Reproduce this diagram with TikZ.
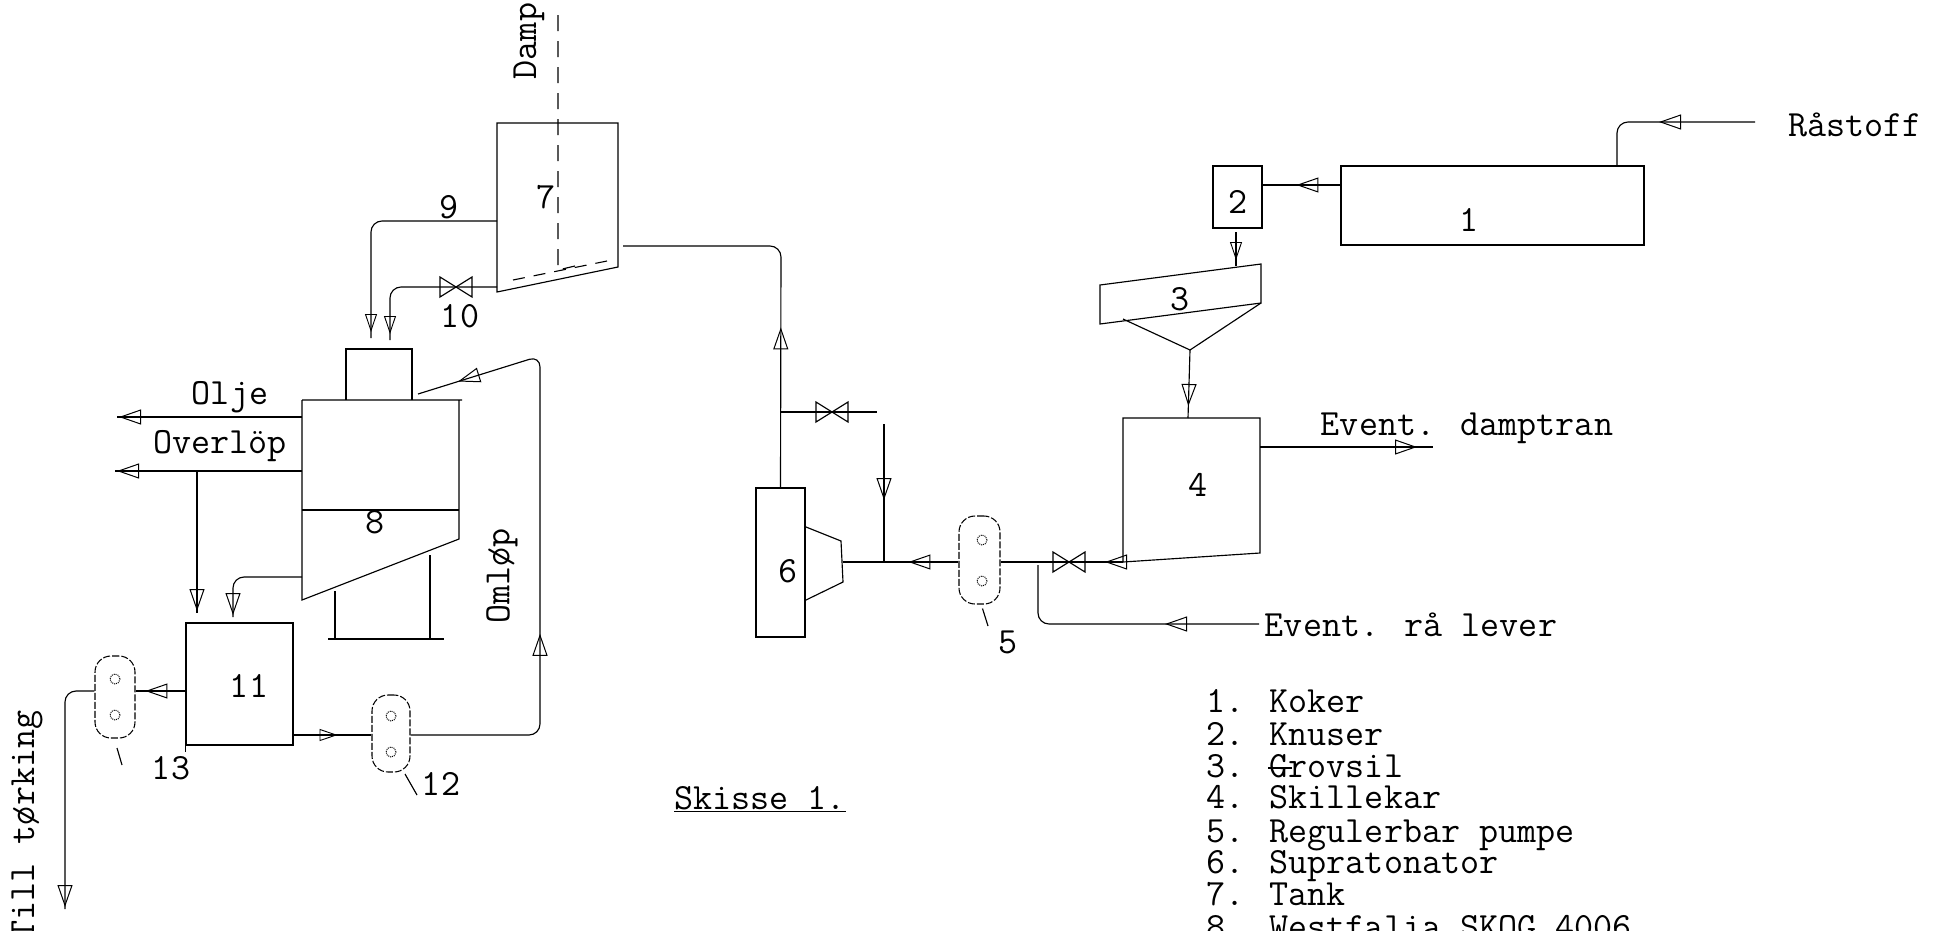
\documentclass[tikz,border=0pt]{standalone}
\usetikzlibrary{arrows.meta,decorations.markings,calc}
\tikzset{
  pipe/.style={line width=1.15pt,rounded corners=11pt},
  wall/.style={line width=1.15pt},
  boxnode/.style={draw,line width=1.15pt,inner sep=0pt,rectangle},
  pumpnode/.style={draw,line width=1.05pt,inner sep=0pt,rectangle,rounded corners=16pt,dash pattern=on 7pt off 2pt},
  hole/.style={draw,line width=1pt,circle,inner sep=0pt,minimum size=10pt,densely dotted},
  txt/.style={inner sep=0pt,font=\fontsize{37}{37}\selectfont\ttfamily},
  flowat/.style={postaction={decorate,decoration={markings,
    mark=at position #1 with {\arrow[line width=1pt]{Triangle[open,length=22pt,width=15pt]}}}}},
  flowsm/.style={postaction={decorate,decoration={markings,
    mark=at position #1 with {\arrow[line width=.9pt]{Triangle[open,length=18pt,width=12pt]}}}}},
  valveshape/.pic={\draw[line width=1.15pt] (-16,-10)--(16,10)--(16,-10)--(-16,10)--cycle;}
}
\begin{document}
\begin{tikzpicture}[x=1pt,y=-1pt]
\useasboundingbox (0,0) rectangle (1940,930);
% ---------- boxes
\node[boxnode,minimum width=303pt,minimum height=79pt] (b1) at (1492.5,205.5) {};
\node[boxnode,minimum width=49pt,minimum height=62pt] (b2) at (1237.5,197) {};
\node[boxnode,minimum width=49pt,minimum height=149pt] (b6) at (780.5,562.5) {};
\node[boxnode,minimum width=107pt,minimum height=122pt] (b11) at (239.5,684) {};
% box 3
\coordinate (b3tl) at (1100,285); \coordinate (b3tr) at (1261,264);
\coordinate (b3br) at (1261,303); \coordinate (b3bl) at (1100,324);
\coordinate (b3apex) at (1190,350); \coordinate (b3cl) at (1123,319);
\draw[wall] (b3tl)--(b3tr)--(b3br)--(b3bl)--cycle;
\draw[wall] (b3cl)--(b3apex)--(b3br);
% box 4
\coordinate (b4tl) at (1123,418); \coordinate (b4tr) at (1260,418);
\coordinate (b4br) at (1260,553); \coordinate (b4bl) at (1123,562);
\draw[wall] (b4tl)--(b4tr)--(b4br)--(b4bl)--cycle;
% box 7
\coordinate (b7tl) at (497,123); \coordinate (b7tr) at (618,123);
\coordinate (b7br) at (618,267); \coordinate (b7bl) at (497,292);
\draw[wall] (b7tl)--(b7tr)--(b7br)--(b7bl)--cycle;
\coordinate (b7ia) at (513,280); \coordinate (b7ib) at (607,261);
\draw[line width=1.1pt,dash pattern=on 12pt off 9pt] (b7ia)--(b7ib);
% centrifuge 8
\coordinate (c8tl) at (302,400); \coordinate (c8tr) at (459,400);
\coordinate (c8mr) at (459,539); \coordinate (c8bl) at (302,600);
\draw[wall] (c8tl)--(462,400) (c8tr)--(c8mr)--(c8bl)--(c8tl);
\draw[wall] (302,510)--(459,510);
\coordinate (c8cl) at (346,400); \coordinate (c8cr) at (412,400);
\draw[wall] (c8cl)--(346,349)--(412,349)--(c8cr);
\draw[wall] (335,591)--(335,639) (430,555)--(430,639) (328,639)--(444,639);
\draw[wall] (b11.south west)--++(0,6);
% nozzle of 6
\coordinate (n6a) at (806,527); \coordinate (n6b) at (841,541);
\coordinate (n6c) at (843,582); \coordinate (n6d) at (806,600);
\coordinate (n6e) at (843,562);
\draw[wall] (n6a)--(n6b)--(n6c)--(n6d);
% ---------- pumps
\node[pumpnode,minimum width=41pt,minimum height=88pt] (p5) at (979.5,560) {};
\node[pumpnode,minimum width=38pt,minimum height=77pt] (p12) at (391,733.5) {};
\node[pumpnode,minimum width=40pt,minimum height=82pt] (p13) at (115,697) {};
\node[hole] (h5a) at (982,540) {}; \node[hole] (h5b) at (982,581) {};
\node[hole] (h12a) at (391,716) {}; \node[hole] (h12b) at (391,752) {};
\node[hole] (h13a) at (115,679) {}; \node[hole] (h13b) at (115,715) {};
% ---------- valves
\coordinate (v10) at (456,287); \pic at (v10) {valveshape};
\coordinate (v6) at (832,412); \pic at (v6) {valveshape};
\coordinate (v4) at (1069,562); \pic at (v4) {valveshape};
% ---------- free ends
\coordinate (raw) at (1755,122);
\coordinate (rawin) at (1617,166);
\coordinate (dtran) at (1433,447);
\coordinate (lever) at (1259,624);
\coordinate (olje) at (117,417);
\coordinate (over) at (115,471);
\coordinate (dry) at (65,909);
% ---------- connectors
\draw[pipe,flowat=96pt] (raw)--(rawin|-raw)--(rawin);
\draw[pipe,flowat=44pt] (b1.west|-0,185)--(b2.east|-0,185);
\draw[pipe,flowsm=28pt] (1236,232)--(1236,266);
\draw[pipe,flowat=56pt] (b3apex)--(1188,418);
\draw[pipe,flowat=18pt] (b4bl)--(v4);
\draw[pipe] (v4)--(p5.east|-v4);
\draw[pipe,flowat=94pt] (lever)--(1038,624)--(1038,565);
\draw[pipe,flowat=50pt] (p5.west|-0,562)--(n6e);
\draw[pipe,flowat=76pt] (884,424)--(884,562);
\draw[pipe] (781,412)--(v6)--(877,412);
\draw[pipe,flowat=160pt] (b6.north)--(781,246)--(623,246);
\draw[pipe,flowsm=-6pt] (b7bl|-v10)--(v10)--(390,287)--(390,340);
\draw[pipe,flowsm=-6pt] (b7tl|-0,221)--(371,221)--(371,338);
\draw[wall,dash pattern=on 16pt off 10pt] (558,15)--(558,270)--(575,266);
\draw[pipe,flowat=40pt] (b11.west|-0,691)--(p13.east|-0,691);
\draw[pipe,flowat=-2pt] (p13.west|-0,691)--(65,691)--(dry);
\draw[pipe,flowsm=44pt] (b11.east|-0,735)--(p12.west|-0,735);
\draw[pipe,flowat=226pt,flowat=-42pt] (p12.east|-0,735)--(540,735)--(540,356)--(418,394);
\draw[pipe,flowat=-2pt] (c8tl|-0,417)--(olje);
\draw[pipe,flowat=-2pt] (c8tl|-0,471)--(over);
\draw[pipe,flowat=140pt] (197,471)--(197,613);
\draw[pipe,flowat=-2pt] (302,577)--(233,577)--(233,617);
\draw[pipe,flowat=-16pt] (b4tr|-dtran)--(dtran);
% ticks
\draw[pipe] (p5.south) ++(3,4)--(988,626);
\draw[pipe] (405,774)--(417,795);
\draw[pipe] (117,748)--(122,765);
% ---------- labels
\node[txt] (t1) at (1469,220) {1};
\node[txt] (t2) at (1238,202) {2};
\node[txt] (t3) at (1180,299) {3};
\node[txt] (t4) at (1198,485) {4};
\node[txt] (t5) at (1008,642) {5};
\node[txt] (t6) at (788,571) {6};
\node[txt] (t7) at (546,197) {7};
\node[txt] (t8) at (375,522) {8};
\node[txt] (t9) at (449,207) {9};
\node[txt] (t10) at (460,316) {10};
\node[txt] (t11) at (249,686) {11};
\node[txt] (t12) at (441,784) {12};
\node[txt] (t13) at (171,768) {13};
\node[txt] (traw) at (1855,125) {Råstoff};
\node[txt] (tdt) at (1467,428) {Event. damptran};
\node[txt] (tlev) at (1411,625) {Event. rå lever};
\node[txt] (tolje) at (230,397) {Olje};
\node[txt] (tover) at (220,446) {Overlöp};
\node[txt,rotate=90] (tdamp) at (529,41) {Damp};
\node[txt,rotate=90] (toml) at (502,576) {Omløp};
\node[txt,rotate=90] (ttil) at (27,825) {Till tørking};
\node[txt] (tsk) at (760,799) {\underline{Skisse 1.}};
\node[txt,anchor=base west] (l1) at (1206,712) {1. Koker};
\node[txt,anchor=base west] (l2) at (1206,745) {2. Knuser};
\node[txt,anchor=base west] (l3) at (1206,777) {3. Grovsil};
\node[txt,anchor=base west] (l4) at (1206,808) {4. Skillekar};
\node[txt,anchor=base west] (l5) at (1206,842) {5. Regulerbar pumpe};
\node[txt,anchor=base west] (l6) at (1206,873) {6. Supratonator};
\node[txt,anchor=base west] (l7) at (1206,905) {7. Tank};
\node[txt,anchor=base west] (l8) at (1206,938) {8. Westfalia SKOG 4006};
\draw[line width=1.1pt] (1268,768)--(1292,768);
\end{tikzpicture}
\end{document}
